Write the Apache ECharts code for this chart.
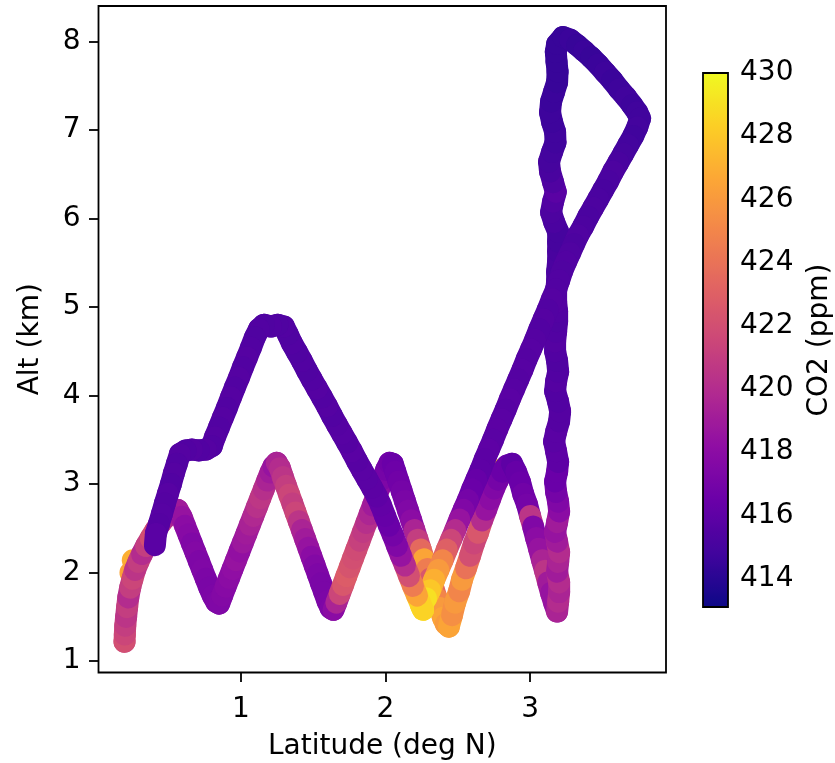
<!DOCTYPE html>
<html><head><meta charset="utf-8">
<script src="https://cdn.jsdelivr.net/npm/echarts@6/dist/echarts.min.js"></script>
<style>html,body{margin:0;padding:0;background:#fff}#c{width:835px;height:763px}</style>
</head><body><div id="c"></div>
<script>
// Flight track, in time order: latitude (deg N), altitude (km), CO2 (ppm)
const trackLat = [
 0.195,0.197,0.200,0.206,0.213,0.221,0.234,0.250,0.268,0.290,0.316,0.344,0.376,0.410,0.445,0.482,0.522,0.562,
 0.590,0.613,0.637,0.661,0.685,0.709,0.733,0.757,0.781,0.805,0.830,0.850,
 0.870,0.894,0.918,0.942,0.966,0.990,1.014,1.038,1.062,1.086,1.110,1.134,1.158,1.182,1.204,1.225,1.248,
 1.270,1.290,1.312,1.334,1.356,1.378,1.400,1.422,1.444,1.466,1.488,1.510,1.532,1.554,1.576,1.598,1.620,1.640,
 1.660,1.683,1.706,1.729,1.752,1.775,1.798,1.821,1.844,1.867,1.890,1.913,1.936,1.959,1.982,2.004,2.028,2.050,
 2.068,2.090,2.112,2.134,2.156,2.178,2.200,2.222,2.244,2.266,2.288,2.310,2.332,2.354,2.376,2.398,2.418,2.438,
 2.460,2.481,2.509,2.529,2.557,2.585,2.612,2.640,2.668,2.696,2.723,2.751,2.779,2.806,2.841,2.875,
 2.903,2.931,2.952,2.979,3.000,3.021,3.042,3.062,3.083,3.104,3.125,3.145,3.166,3.187,
 3.194,3.201,3.201,3.187,3.194,3.201,3.187,3.173,3.187,3.201,3.194,3.180,3.173,3.187,3.194,3.180,3.166,3.180,3.201,3.208,
 3.194,3.173,3.180,3.194,3.187,3.173,3.173,3.180,3.187,3.187,3.180,3.180,3.187,3.187,3.194,3.194,3.194,
 3.194,3.166,3.145,3.159,3.178,3.159,3.138,3.131,3.152,3.176,3.173,3.152,3.138,3.145,3.166,3.187,3.190,3.183,3.178,3.187,
 3.228,3.277,3.325,3.374,3.422,3.471,3.519,3.568,3.616,3.664,3.706,3.741,3.761,
 3.741,3.713,3.678,3.644,3.609,3.574,3.540,3.505,3.471,3.436,3.401,3.367,3.332,3.304,3.277,3.249,3.221,3.201,3.180,
 3.151,3.122,3.093,3.064,3.035,3.006,2.976,2.947,2.918,2.889,2.860,2.831,2.802,2.773,2.744,2.715,2.686,2.657,2.628,
 2.599,2.570,2.540,2.511,2.482,2.453,2.424,2.395,2.366,2.337,2.308,2.280,2.246,
 2.260,
 2.218,2.190,2.163,2.135,2.107,2.080,2.052,2.024,1.997,1.969,1.941,1.907,1.872,1.837,1.803,1.768,1.734,1.699,1.664,
 1.630,1.595,1.561,1.526,1.491,1.457,1.422,1.388,1.353,1.325,1.298,1.256,1.208,1.159,1.125,
 1.097,1.069,1.042,1.014,0.986,0.958,0.931,0.903,0.875,0.848,0.820,0.799,0.758,0.709,0.661,0.619,0.578,
 0.557,0.536,0.516,0.495,0.474,0.453,0.433,0.412,0.405
];
const trackAlt = [
 1.22,1.30,1.40,1.50,1.61,1.72,1.83,1.93,2.03,2.12,2.21,2.30,2.39,2.48,2.56,2.63,2.68,2.71,
 2.63,2.53,2.43,2.33,2.23,2.13,2.03,1.93,1.83,1.74,1.67,1.65,
 1.74,1.84,1.94,2.04,2.14,2.24,2.34,2.44,2.54,2.64,2.74,2.84,2.94,3.04,3.13,3.20,3.24,
 3.18,3.08,2.98,2.88,2.78,2.68,2.58,2.48,2.38,2.28,2.18,2.08,1.98,1.88,1.78,1.68,1.60,1.58,
 1.66,1.76,1.86,1.96,2.06,2.16,2.26,2.36,2.46,2.56,2.66,2.76,2.86,2.96,3.06,3.16,3.24,3.23,
 3.14,3.03,2.92,2.81,2.70,2.59,2.48,2.37,2.26,2.15,2.04,1.93,1.82,1.71,1.60,1.49,1.42,1.39,
 1.52,1.66,1.79,1.92,2.05,2.19,2.33,2.45,2.59,2.71,2.83,2.95,3.05,3.14,3.21,3.23,
 3.14,3.02,2.89,2.77,2.64,2.52,2.39,2.27,2.14,2.02,1.89,1.77,1.66,1.56,
 1.67,1.78,1.89,2.01,2.12,2.23,2.35,2.46,2.57,2.69,2.80,2.91,3.03,3.14,3.25,3.37,3.48,3.59,3.71,3.82,
 3.93,4.05,4.16,4.27,4.39,4.50,4.61,4.72,4.84,4.95,5.06,5.18,5.29,5.40,5.52,5.63,5.74,
 5.85,5.96,6.07,6.19,6.30,6.41,6.53,6.64,6.75,6.86,6.98,7.09,7.20,7.32,7.43,7.54,7.66,7.77,7.88,7.97,
 8.05,8.02,7.96,7.89,7.82,7.74,7.65,7.56,7.46,7.37,7.28,7.20,7.13,
 7.03,6.93,6.83,6.73,6.63,6.53,6.42,6.32,6.22,6.12,6.02,5.91,5.81,5.71,5.61,5.51,5.40,5.30,5.20,
 5.09,4.97,4.86,4.75,4.63,4.52,4.41,4.29,4.18,4.07,3.96,3.84,3.73,3.62,3.50,3.39,3.28,3.16,3.05,
 2.94,2.82,2.71,2.60,2.48,2.37,2.26,2.14,2.03,1.92,1.80,1.71,1.63,
 1.58,
 1.74,1.85,1.96,2.08,2.19,2.30,2.42,2.53,2.64,2.76,2.86,2.96,3.06,3.16,3.26,3.37,3.47,3.57,3.67,
 3.77,3.88,3.98,4.08,4.18,4.28,4.39,4.49,4.59,4.69,4.78,4.80,4.78,4.80,4.75,
 4.66,4.54,4.43,4.32,4.20,4.09,3.98,3.86,3.75,3.64,3.53,3.43,3.39,3.38,3.39,3.38,3.34,
 3.23,3.12,3.00,2.89,2.78,2.66,2.55,2.44,2.31
];
const trackCO2 = [
 421,422,421.5,421,420.5,421,420,421,421.5,420.5,421,420,421,422,421.5,420.5,419.5,419,
 419,418.5,418,417.8,417.5,417.6,417.4,417.5,417.3,417.2,417.3,417.4,
 417.5,417.6,417.8,418,418.2,418.5,418.3,418.8,419,419.4,419.8,420.3,420.6,420.2,419.5,419,418.5,
 419.5,420,420.5,421,421.5,421,421.5,420.5,419.5,419,418.5,418,417.6,417.4,417.2,417.2,417.3,417.4,
 418,419.5,421.5,422.5,422.8,422.3,422,421.8,421.2,420.8,420.2,419.6,419,418.5,418,417.4,417,416.8,
 416.5,416.6,416.8,417,417.2,417.5,418,419.5,421,423.5,426.5,424.5,422.5,423.5,425,426,426.5,426,
 426.5,425.5,426,425,426,424,422,421.5,422.5,420,418.5,418,417.5,417,416.5,416.5,
 416,416.3,416.5,416.8,417,420.5,417.5,418,418.5,419.5,420.5,419,418.5,418.5,
 419.5,420,419.5,420,419,419.5,420,419,418.5,419,418,417.5,417,416.5,416.5,416,416,415.8,415.8,415.6,
 415.6,415.5,415.5,415.6,415.5,415.4,415.5,415.6,415.5,415.4,415.5,415.6,415.4,415.3,415.2,415.2,415.1,
 415,415,415.2,415.3,415.5,415.8,415.4,415.1,415,414.9,414.8,414.8,414.7,414.7,414.6,414.6,414.5,414.5,414.5,414.5,
 414.5,414.5,414.6,414.5,414.6,414.5,414.6,414.7,414.6,414.7,414.8,414.7,414.8,
 414.8,414.9,414.8,414.9,415,415.1,415.3,415.2,415.1,415.2,415.3,415.2,415.3,415.4,415.3,415.4,415.5,415.4,415.5,
 415.5,415.6,415.5,415.6,415.5,415.6,415.7,415.6,415.7,415.6,415.7,415.8,415.7,415.8,415.9,415.8,416,415.9,416,
 416.3,416.5,417,417.5,418.5,420,421.5,423,425,426,427,428,429,
 429.5,
 428.5,426.5,424.5,422,420,418.5,417.5,417,416.5,416.3,416.2,416,415.9,415.8,415.8,415.7,415.8,415.6,415.7,
 415.6,415.5,415.6,415.5,415.6,415.5,415.4,415.5,415.4,415.5,415.4,415.5,415.4,415.5,415.4,
 415.5,415.4,415.5,415.6,415.5,415.6,415.5,415.6,415.5,415.6,415.5,415.6,415.5,415.6,415.5,415.6,415.5,
 415.6,415.5,415.6,415.5,415.7,415.6,415.7,415.6,415.8
];
// Isolated high-CO2 readings peeking out from under the track
const spotLat = [0.252, 0.236, 2.785];
const spotAlt = [2.14, 2.00, 3.16];
const spotCO2 = [427, 426.5, 427.5];

const xTicks = [1, 2, 3];
const yTicks = [1, 2, 3, 4, 5, 6, 7, 8];
const cbTicks = [414, 416, 418, 420, 422, 424, 426, 428, 430];
const co2Min = 413.1, co2Max = 430;
const plasma = ['#0d0887','#41049d','#6a00a8','#8f0da4','#b12a90','#cc4778','#e16462','#f2844b','#fca636','#fcce25','#f0f921'];

const track = trackLat.map((v, i) => [v, trackAlt[i], trackCO2[i]]);
const spots = spotLat.map((v, i) => [v, spotAlt[i], spotCO2[i]]);
const W = 22;
const font = 'DejaVu Sans';
const chart = echarts.init(document.getElementById('c'), null, {renderer: 'canvas'});
chart.setOption({
  animation: false,
  backgroundColor: '#fff',
  grid: [
    {left: 98.5, right: 169, top: 6, bottom: 90.5, show: true, borderColor: '#000', borderWidth: 1.8,
     backgroundColor: 'transparent', containLabel: false, outerBoundsMode: 'none'},
    {left: 703, top: 73, width: 25, height: 534, show: true, borderColor: '#000', borderWidth: 1.8,
     backgroundColor: 'transparent', z: 10, containLabel: false, outerBoundsMode: 'none'}
  ],
  xAxis: [
    {type: 'value', gridIndex: 0, min: 0.015, max: 3.94,
     axisLine: {show: false}, splitLine: {show: false},
     axisTick: {show: true, length: 9.5, lineStyle: {color: '#000', width: 1.8}, customValues: xTicks},
     axisLabel: {customValues: xTicks, fontSize: 28, fontFamily: font, color: '#000', margin: 23},
     name: 'Latitude (deg N)', nameLocation: 'middle', nameGap: 60,
     nameTextStyle: {fontSize: 28, fontFamily: font, color: '#000'}},
    {type: 'value', gridIndex: 1, min: 0, max: 1, show: false}
  ],
  yAxis: [
    {type: 'value', gridIndex: 0, min: 0.872, max: 8.40,
     axisLine: {show: false}, splitLine: {show: false},
     axisTick: {show: true, length: 9.5, lineStyle: {color: '#000', width: 1.8}, customValues: yTicks},
     axisLabel: {customValues: yTicks, fontSize: 28, fontFamily: font, color: '#000', margin: 18},
     name: 'Alt (km)', nameLocation: 'middle', nameRotate: 90, nameGap: 54,
     nameTextStyle: {fontSize: 28, fontFamily: font, color: '#000'}},
    {type: 'value', gridIndex: 1, position: 'right', min: co2Min, max: co2Max,
     axisLine: {show: false}, splitLine: {show: false},
     axisTick: {show: true, length: 9, lineStyle: {color: '#000', width: 1.8}, customValues: cbTicks},
     axisLabel: {customValues: cbTicks, fontSize: 28, fontFamily: font, color: '#000', margin: 12},
     name: 'CO2 (ppm)', nameLocation: 'middle', nameRotate: 90, nameGap: 78,
     nameTextStyle: {fontSize: 28, fontFamily: font, color: '#000'}}
  ],
  visualMap: {
    type: 'continuous', min: co2Min, max: co2Max, dimension: 2, seriesIndex: [0, 1],
    inRange: {color: plasma}, calculable: false, show: true, orient: 'vertical',
    left: 703, top: 73, itemWidth: 25, itemHeight: 534, padding: 0, text: null,
    hoverLink: false
  },
  series: [
    {type: 'scatter', xAxisIndex: 0, yAxisIndex: 0, data: spots, z: 1,
     symbol: 'circle', symbolSize: W, itemStyle: {opacity: 1}, emphasis: {disabled: true}},
    {type: 'custom', xAxisIndex: 0, yAxisIndex: 0, data: track, z: 2, clip: true,
     encode: {x: 0, y: 1},
     renderItem: function (params, api) {
       const i = params.dataIndexInside;
       const p1 = api.coord([api.value(0), api.value(1)]);
       const color = api.visual('color');
       if (i === 0) {
         return {type: 'circle', shape: {cx: p1[0], cy: p1[1], r: W / 2}, style: {fill: color}};
       }
       const p0 = api.coord([api.value(0, i - 1), api.value(1, i - 1)]);
       return {type: 'line', shape: {x1: p0[0], y1: p0[1], x2: p1[0], y2: p1[1]},
               style: {stroke: color, lineWidth: W, lineCap: 'round', fill: null}};
     }}
  ]
});
</script></body></html>
